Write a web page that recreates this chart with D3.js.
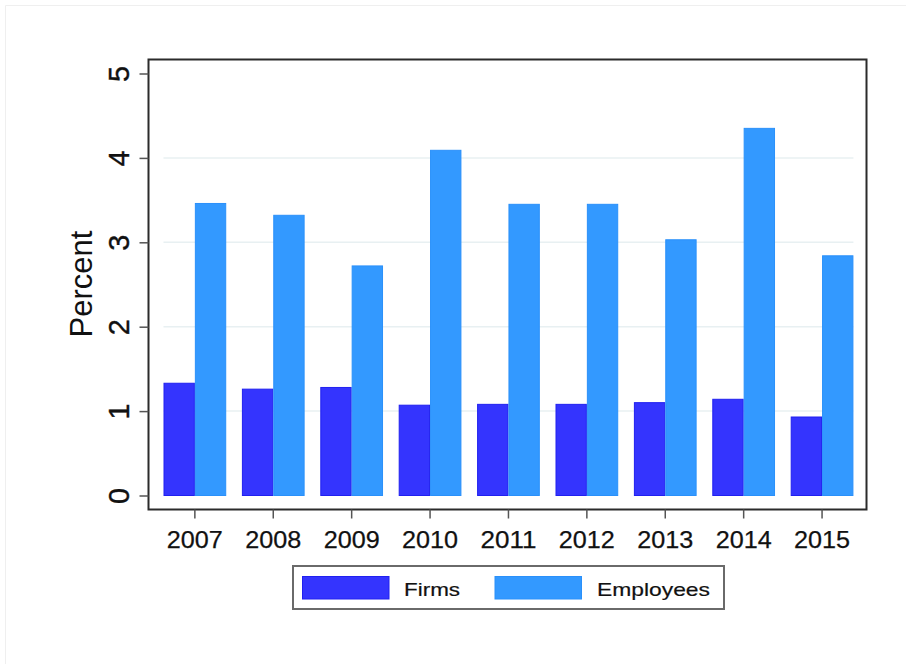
<!DOCTYPE html>
<html><head><meta charset="utf-8">
<script src="https://cdn.jsdelivr.net/npm/d3@7"></script>
<style>body{margin:0;background:#fff}svg{display:block}text{font-family:"Liberation Sans",Arial,sans-serif;fill:#111}</style>
</head><body>
<script>
const years = ["2007","2008","2009","2010","2011","2012","2013","2014","2015"];
const firms = [1.33, 1.26, 1.28, 1.07, 1.08, 1.08, 1.10, 1.14, 0.93];
const employees = [3.46, 3.32, 2.72, 4.09, 3.45, 3.45, 3.03, 4.35, 2.84];
const seriesNames = ["Firms", "Employees"];
const yTicks = [0, 1, 2, 3, 4, 5];
const colors = ["#3434fe", "#3399ff"];
const strokes = ["#2020f0", "#2a90fa"];

const W = 906, H = 664;
const svg = d3.select("body").append("svg").attr("width", W).attr("height", H);

// faint outer graph border
svg.append("path").attr("d", "M5.5,664 V5.5 H906").attr("fill", "none").attr("stroke", "#efefef").attr("stroke-width", 1);

const frame = {l: 148.5, r: 866.5, t: 59.5, b: 509.5};
const x = d3.scaleBand().domain(years).range([155.66, 861.26]).paddingInner(0.2).paddingOuter(0.1);
const xs = d3.scaleBand().domain(seriesNames).range([0, x.bandwidth()]);
const y = d3.scaleLinear().domain([0, 5]).range([495.5, 73.5]);

// gridlines
svg.append("g").selectAll("line").data(yTicks.filter(d => d > 0 && d < 5)).join("line")
  .attr("x1", x.range()[0] + x.step() * 0.1).attr("x2", x.range()[1] - x.step() * 0.1)
  .attr("y1", d => y(d)).attr("y2", d => y(d))
  .attr("stroke", "#e8f0f2").attr("stroke-width", 1.5);

// bars
const data = years.map((yr, i) => ({yr, vals: [firms[i], employees[i]]}));
const groups = svg.append("g").selectAll("g").data(data).join("g")
  .attr("transform", d => `translate(${x(d.yr)},0)`);
groups.selectAll("rect").data(d => d.vals.map((v, j) => ({v, j}))).join("rect")
  .attr("x", d => xs(seriesNames[d.j]) + 0.5)
  .attr("width", xs.bandwidth() - 1)
  .attr("y", d => y(d.v))
  .attr("height", d => y(0) - y(d.v))
  .attr("fill", d => colors[d.j])
  .attr("stroke", d => strokes[d.j]).attr("stroke-width", 1);

// frame
svg.append("rect").attr("x", frame.l).attr("y", frame.t)
  .attr("width", frame.r - frame.l).attr("height", frame.b - frame.t)
  .attr("fill", "none").attr("stroke", "#2b2b2b").attr("stroke-width", 2);

// y axis
const yAxis = svg.append("g").attr("transform", `translate(${frame.l},0)`)
  .call(d3.axisLeft(y).tickValues(yTicks).tickSize(9).tickPadding(0).tickFormat(d3.format("d")));
yAxis.select(".domain").remove();
yAxis.selectAll(".tick line").attr("stroke", "#555").attr("stroke-width", 1.5);
yAxis.selectAll(".tick text").attr("transform", "rotate(-90)")
  .attr("x", 0).attr("y", -20).attr("dy", 0)
  .attr("text-anchor", "middle").style("font-size", "30px")
  .style("stroke", "#111").style("stroke-width", 0.4)
  .attr("textLength", 16).attr("lengthAdjust", "spacingAndGlyphs");

// x axis
const xAxis = svg.append("g").attr("transform", `translate(0,${frame.b})`)
  .call(d3.axisBottom(x).tickSize(9).tickPadding(0));
xAxis.select(".domain").remove();
xAxis.selectAll(".tick line").attr("stroke", "#555").attr("stroke-width", 1.5);
xAxis.selectAll(".tick text").attr("y", 38).attr("dy", 0)
  .style("font-size", "24px").style("stroke", "#111").style("stroke-width", 0.25)
  .attr("textLength", 56).attr("lengthAdjust", "spacingAndGlyphs");

// y title
svg.append("text").attr("transform", "translate(92,284) rotate(-90)")
  .attr("text-anchor", "middle").style("font-size", "31px").text("Percent");

// legend
const leg = svg.append("g");
leg.append("rect").attr("x", 293).attr("y", 566).attr("width", 431).attr("height", 43)
  .attr("fill", "#fff").attr("stroke", "#6a6a6a").attr("stroke-width", 2);
const legX = [302.5, 495];
const legTX = [404, 597];
const legLen = [56, 113];
seriesNames.forEach((n, i) => {
  leg.append("rect").attr("x", legX[i]).attr("y", 576.5).attr("width", 86.5).attr("height", 22.5)
    .attr("fill", colors[i]).attr("stroke", strokes[i]).attr("stroke-width", 1);
  leg.append("text").attr("x", legTX[i]).attr("y", 596).style("font-size", "19px")
    .style("stroke", "#111").style("stroke-width", 0.2)
    .attr("textLength", legLen[i]).attr("lengthAdjust", "spacingAndGlyphs").text(n);
});
</script>
</body></html>
